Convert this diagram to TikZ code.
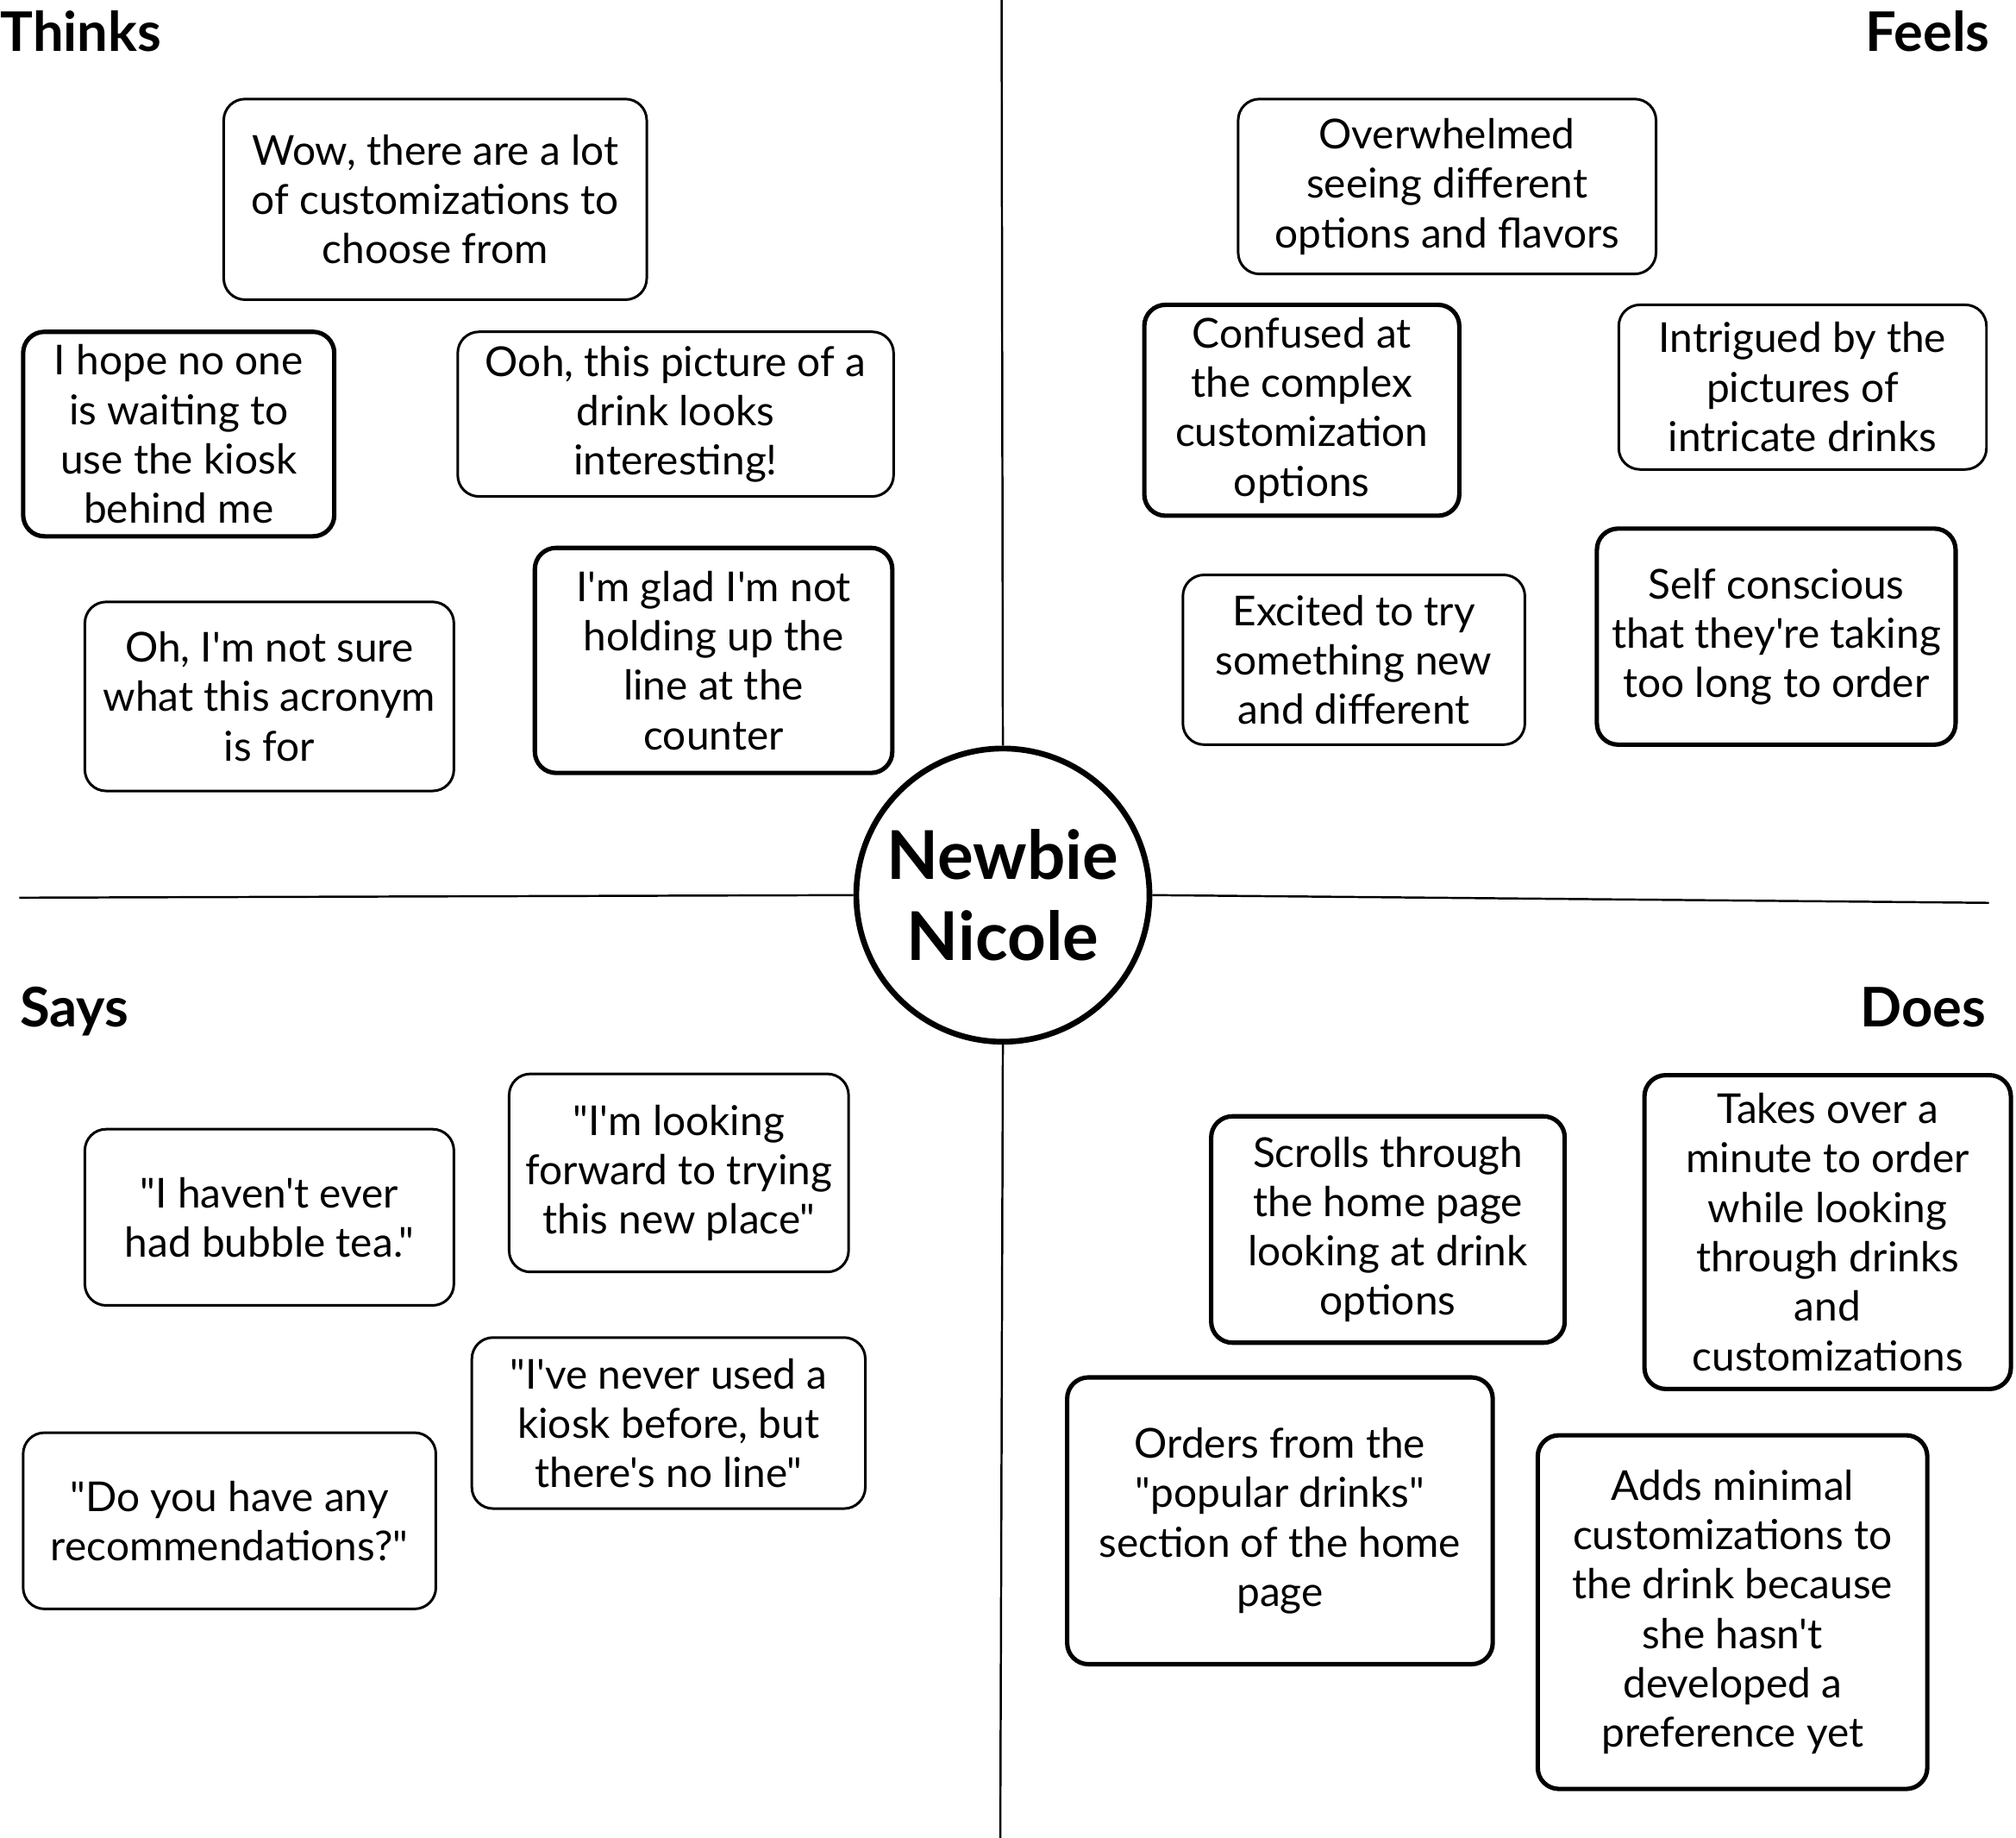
\documentclass[tikz,border=0pt]{standalone}
\usepackage{fontspec}
\setmainfont{Lato}[Ligatures=TeXOff]
\tikzset{
  note/.style={draw, rounded corners=7pt, line width=0.85pt, align=center,
    inner sep=0pt, font=\fontsize{13.6}{16.3}\selectfont},
  thicknote/.style={note, line width=1.45pt},
  sz/.style 2 args={minimum width=#1*0.01491cm, minimum height=#2*0.01491cm},
  quadrant/.style={font=\fontsize{18}{20}\selectfont\bfseries, inner sep=0pt},
  divider/.style={line width=0.7pt}
}
\begin{document}
\begin{tikzpicture}[x=0.01491cm, y=-0.01491cm]
\useasboundingbox (0,0) rectangle (1568,1429);
% persona in the middle
\node[draw, circle, line width=1.9pt, inner sep=0pt, minimum size=228*0.01491cm, align=center,
  font=\fontsize{22.2}{26.5}\selectfont\bfseries] (persona) at (780,696) {Newbie\\Nicole};
\coordinate (topend) at (779,0);
\coordinate (bottomend) at (778,1429);
\coordinate (leftend) at (15,698);
\coordinate (rightend) at (1547,702);
\draw[divider] (persona.north) -- (topend);
\draw[divider] (persona.south) -- (bottomend);
\draw[divider] (persona.west) -- (leftend);
\draw[divider] (persona.east) -- (rightend);
% quadrant titles
\node[quadrant, anchor=north west] (thinks) at (0,8) {Thinks};
\node[quadrant, anchor=north east] (feels) at (1548,8) {Feels};
\node[quadrant, anchor=north west] (says) at (15,767) {Says};
\node[quadrant, anchor=north east] (does) at (1545,767) {Does};
% thinks
\node[note, sz={329}{156}] (think1) at (338.5,155) {Wow, there are a lot\\of customizations to\\choose from};
\node[thicknote, sz={242}{159}] (think2) at (139,337.5) {I hope no one\\is waiting to\\use the kiosk\\behind me};
\node[note, sz={339}{128}] (think3) at (525.5,322) {Ooh, this picture of a\\drink looks\\interesting!};
\node[note, sz={287}{147}] (think4) at (209.5,541.5) {Oh, I'm not sure\\what this acronym\\is for};
\node[thicknote, sz={278}{175}] (think5) at (555,513.5) {I'm glad I'm not\\holding up the\\line at the\\counter};
% feels
\node[note, sz={325}{136}] (feel1) at (1125.5,145) {Overwhelmed\\seeing different\\options and flavors};
\node[thicknote, sz={245}{164}] (feel2) at (1012.5,319) {Confused at\\the complex\\customization\\options};
\node[note, sz={286}{128}] (feel3) at (1402,301) {Intrigued by the\\pictures of\\intricate drinks};
\node[note, sz={266}{132}] (feel4) at (1053,513) {Excited to try\\something new\\and different};
\node[thicknote, sz={279}{168}] (feel5) at (1381.5,495) {Self conscious\\that they're taking\\too long to order};
% says
\node[note, sz={287}{137}] (say1) at (209.5,946.5) {"I haven't ever\\had bubble tea."};
\node[note, sz={264}{154}] (say2) at (528,912) {"I'm looking\\forward to trying\\this new place"};
\node[note, sz={306}{133}] (say3) at (520,1106.5) {"I've never used a\\kiosk before, but\\there's no line"};
\node[note, sz={321}{137}] (say4) at (178.5,1182.5) {"Do you have any\\recommendations?"};
% does
\node[thicknote, sz={275}{176}] (do1) at (1079.5,956) {Scrolls through\\the home page\\looking at drink\\options};
\node[thicknote, sz={285}{244}] (do2) at (1421.5,958) {Takes over a\\minute to order\\while looking\\through drinks\\and\\customizations};
\node[thicknote, sz={331}{223}] (do3) at (995.5,1182.5) {Orders from the\\"popular drinks"\\section of the home\\page};
\node[thicknote, sz={303}{275}] (do4) at (1347.5,1253.5) {Adds minimal\\customizations to\\the drink because\\she hasn't\\developed a\\preference yet};
\end{tikzpicture}
\end{document}
